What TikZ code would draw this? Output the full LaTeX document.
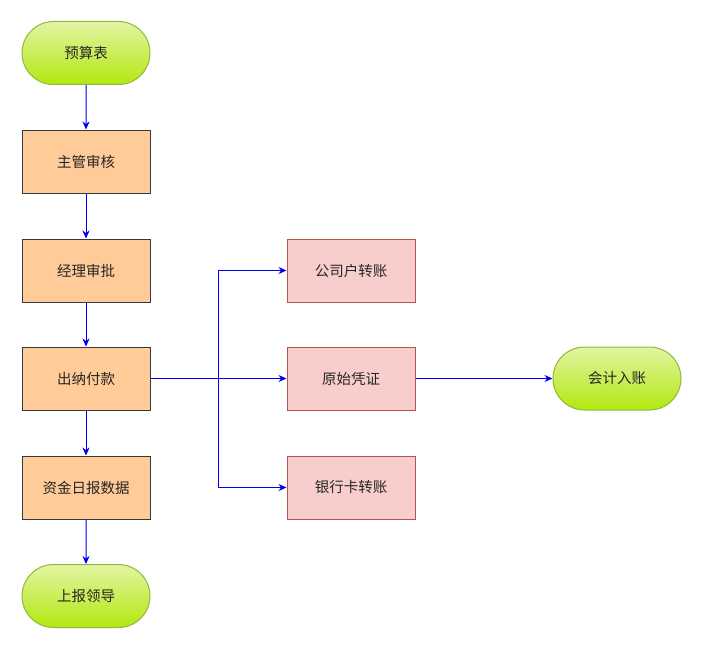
\documentclass[tikz,border=0pt]{standalone}
\usepackage{fontspec}
\setmainfont{Noto Sans CJK SC}
\usetikzlibrary{arrows.meta,shapes.misc}
\definecolor{orangefill}{HTML}{FFCC99}
\definecolor{orangeline}{HTML}{36393D}
\definecolor{pinkfill}{HTML}{F8CECC}
\definecolor{pinkline}{HTML}{B85450}
\definecolor{greentop}{HTML}{E2F5A3}
\definecolor{greenbot}{HTML}{B2E80F}
\definecolor{greenline}{HTML}{8DBA3C}
\definecolor{arrowblue}{HTML}{0000EE}
\begin{document}
\begin{tikzpicture}[x=1pt,y=-1pt,
  every node/.style={font=\fontsize{14.5}{17}\selectfont, text=black!85},
  procbox/.style={rectangle, draw=orangeline, fill=orangefill, line width=1pt, minimum width=128pt, minimum height=63pt, inner sep=0pt},
  pinkbox/.style={rectangle, draw=pinkline, fill=pinkfill, line width=1pt, minimum width=128pt, minimum height=63pt, inner sep=0pt},
  termbox/.style={rounded rectangle, draw=greenline, top color=greentop, bottom color=greenbot, line width=1pt, minimum width=128pt, minimum height=63pt, inner sep=0pt},
  conn/.style={draw=arrowblue, line width=1pt, -{Stealth[length=8pt,width=7pt]}}
]
\useasboundingbox (0,0) rectangle (703,650);
\node[termbox] (ysb) at (86,53) {预算表};
\node[procbox] (zgsh) at (86,161.5) {主管审核};
\node[procbox] (jlsp) at (86,270.5) {经理审批};
\node[procbox] (cnfk) at (86,378.5) {出纳付款};
\node[procbox] (zjrb) at (86,487.5) {资金日报数据};
\node[termbox] (sbld) at (86,596) {上报领导};
\node[pinkbox] (gshzz) at (351,270.5) {公司户转账};
\node[pinkbox] (yspz) at (351,378.5) {原始凭证};
\node[pinkbox] (yhkzz) at (351,487.5) {银行卡转账};
\node[termbox] (kjrz) at (617,378.5) {会计入账};
\coordinate (br) at (218,378.5);
\draw[conn] (ysb) -- (zgsh);
\draw[conn] (zgsh) -- (jlsp);
\draw[conn] (jlsp) -- (cnfk);
\draw[conn] (cnfk) -- (zjrb);
\draw[conn] (zjrb) -- (sbld);
\draw[conn] (cnfk) -- (yspz);
\draw[conn] (br) |- (gshzz);
\draw[conn] (br) |- (yhkzz);
\draw[conn] (yspz) -- (kjrz);
\end{tikzpicture}
\end{document}
